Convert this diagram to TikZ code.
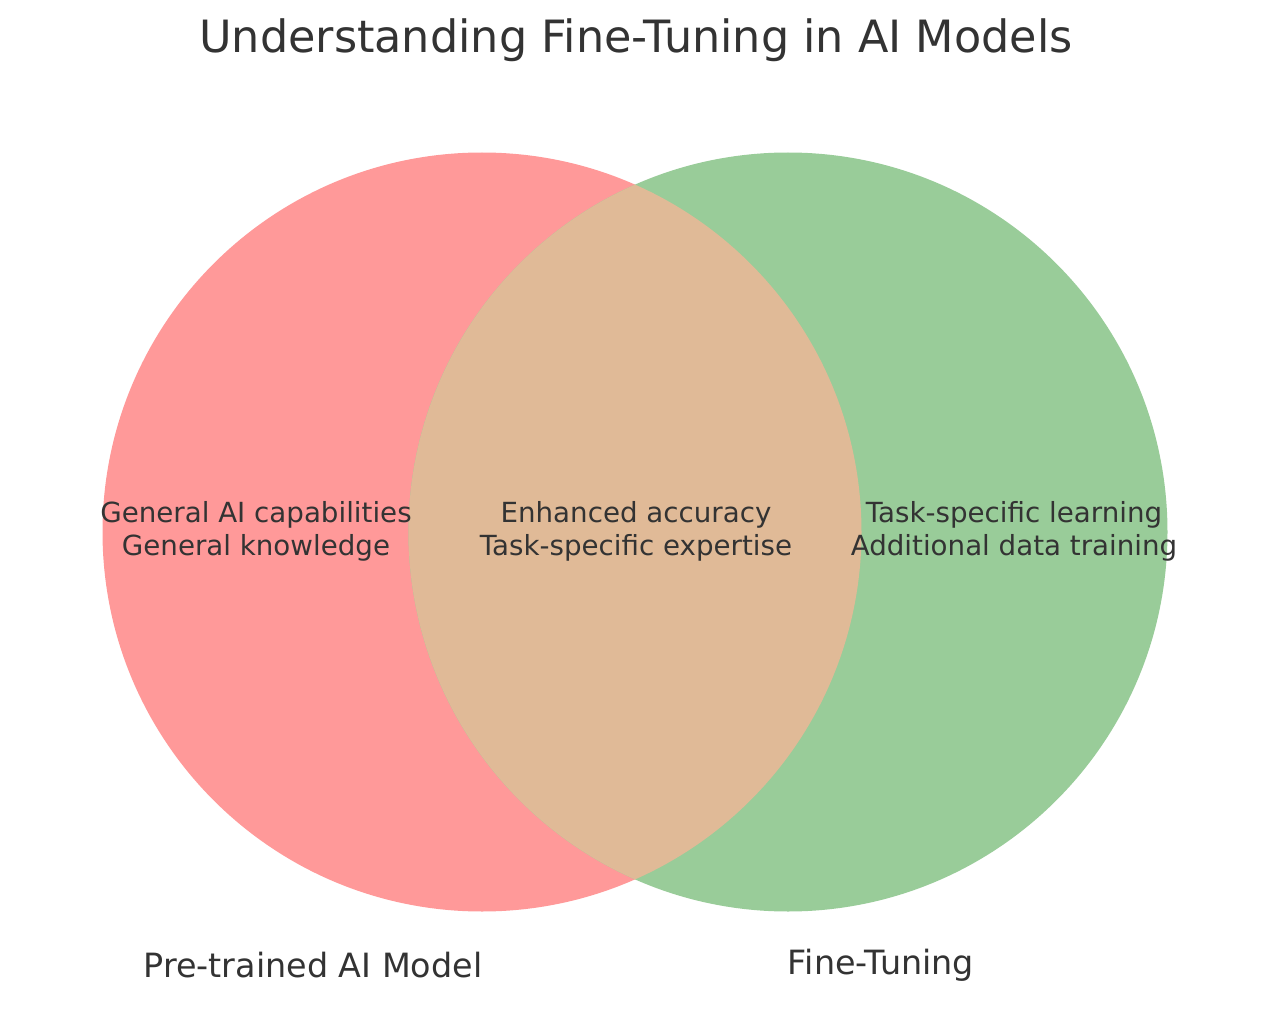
\documentclass[tikz,border=0pt]{standalone}
\usepackage{fontspec}
\setmainfont{DejaVu Sans}
\definecolor{lc}{HTML}{FF9999}
\definecolor{rc}{HTML}{99CC99}
\definecolor{oc}{HTML}{E0BA97}
\definecolor{tc}{HTML}{333333}
\begin{document}
\begin{tikzpicture}[x=1pt,y=-1pt,
  lab/.style={text=tc,font=\fontsize{27.7}{33}\selectfont,align=center},
  big/.style={text=tc,font=\fontsize{33.4}{40}\selectfont}]
\useasboundingbox (0,0) rectangle (1270,1014);
\fill[white] (0,0) rectangle (1270,1014);
\fill[lc] (482,532) circle (379.5);
\fill[rc] (788,532) circle (379.5);
\begin{scope}
\clip (482,532) circle (379.5);
\fill[oc] (788,532) circle (379.5);
\end{scope}
\node[text=tc,font=\fontsize{44.5}{52}\selectfont] (title) at (636,40) {Understanding Fine-Tuning in AI Models};
\node[lab] (l) at (256,531) {General AI capabilities\\General knowledge};
\node[lab] (m) at (636,531) {Enhanced accuracy\\Task-specific expertise};
\node[lab] (r) at (1014,531) {Task-specific learning\\Additional data training};
\node[big] (a) at (313,965) {Pre-trained AI Model};
\node[big] (b) at (881,965) {Fine-Tuning};
\end{tikzpicture}
\end{document}
